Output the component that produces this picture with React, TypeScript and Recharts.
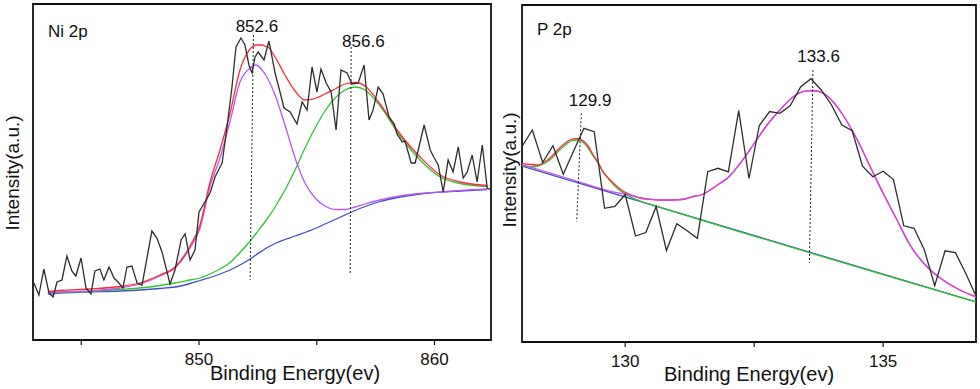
import React from 'react';
import { LineChart, Line, XAxis, YAxis, ReferenceLine, ReferenceArea, ReferenceDot, Label } from 'recharts';

const FONT = '"Liberation Sans", Arial, Helvetica, sans-serif';

// ---------------- Ni 2p (left panel) ----------------
const niEnergy = [
  842.99, 843.2, 843.41, 843.63, 843.8, 843.97, 844.18, 844.39, 844.6, 844.77,
  844.99, 845.2, 845.41, 845.58, 845.79, 845.96, 846.18, 846.39, 846.56, 846.77,
  846.94, 847.15, 847.37, 847.58, 848.0, 848.21, 848.43, 848.77, 848.98, 849.24,
  849.41, 849.62, 849.83, 850.0, 850.25, 850.47, 850.68, 850.98, 851.19, 851.4,
  851.57, 851.78, 851.95, 852.12, 852.25, 852.38, 852.51, 852.76, 852.97, 853.23,
  853.44, 853.61, 853.87, 854.16, 854.38, 854.59, 854.8, 855.01, 855.18, 855.4,
  855.61, 855.82, 856.03, 856.29, 856.5, 856.76, 857.01, 857.22, 857.39, 857.61,
  857.82, 858.07, 858.29, 858.41, 858.63, 858.75, 859.01, 859.18, 859.31, 859.56,
  859.82, 859.99, 860.16, 860.37, 860.58, 860.79, 861.01, 861.22, 861.39, 861.6,
  861.81, 862.03, 862.24, 862.41,
];
const niCounts = [
  57, 45, 71, 47, 43, 58, 60, 84, 69, 64,
  82, 52, 46, 69, 71, 60, 73, 62, 58, 52,
  73, 74, 57, 55, 109, 102, 88, 56, 70, 100,
  106, 80, 90, 128, 138, 147, 163, 177, 213, 253,
  293, 302, 295, 275, 267, 283, 288, 280, 299, 267,
  248, 232, 228, 216, 238, 230, 273, 248, 271, 257,
  248, 210, 270, 267, 256, 257, 275, 220, 230, 253,
  246, 223, 216, 206, 198, 199, 177, 177, 190, 215,
  190, 182, 175, 148, 180, 168, 193, 162, 168, 185,
  158, 195, 152, 150,
];
const niFitEnergy = [
  843.58, 844.09, 845.37, 846.64, 847.49, 848.34, 848.98, 849.62, 850.04, 850.47,
  850.89, 851.32, 851.74, 852.17, 852.42, 852.8, 853.23, 853.65, 854.08, 854.5,
  854.93, 855.35, 855.78, 856.2, 856.63, 857.05, 857.69, 858.54, 859.39, 860.24,
  861.09, 862.24,
];
const niBackground = [
  46, 47, 48, 49, 50, 51.5, 53, 56.5, 59.5, 62.5,
  66, 70, 75, 81, 85, 91, 96.5, 100.5, 104, 107.5,
  111.5, 116, 120.5, 125, 129.5, 133.5, 138.5, 143, 146, 147.8,
  149, 150.5,
];
const niPeak1 = [
  47, 48, 49, 52, 56, 64, 72, 92, 111.5, 154,
  182, 219, 258, 272, 275, 266, 245, 215, 182, 157,
  142, 134, 130.5, 130.5, 133, 136, 140, 144, 146.5, 148,
  149.5, 151,
];
const niPeak2 = [
  47, 47.5, 48.5, 50.5, 52, 54.5, 57, 60, 62, 66,
  71, 77.5, 87.5, 99, 106.5, 118, 133, 150, 170, 192,
  212, 229, 242, 250, 253, 250, 234, 204, 180, 163,
  156.5, 153.5,
];
const niEnvEnergy = [
  843.58, 844.09, 845.37, 846.64, 847.49, 848.34, 848.98, 849.62, 850.04, 850.47,
  850.89, 851.32, 851.74, 852.17, 852.42, 852.68, 852.8, 852.93, 853.23, 853.65,
  854.08, 854.5, 854.93, 855.35, 855.78, 856.2, 856.63, 857.05, 857.69, 858.54,
  859.39, 860.24, 861.09, 862.24,
];
const niEnvelope = [
  48.5, 49.5, 51, 53.5, 57, 65, 73, 94, 115, 158,
  190, 227, 270, 291, 295, 295, 294, 293, 283, 265,
  249, 240, 241.5, 246, 251, 256, 257.5, 254, 236, 206,
  183, 165, 158, 154.5,
];
const niTicks = [845, 850, 855, 860];
const niTickLabels = [850, 860];
const niPeakMarks = [
  { label: '852.6', eTop: 852.31, iTop: 305, eBottom: 852.17, iBottom: 60, eText: 852.46, iText: 308 },
  { label: '856.6', eTop: 856.46, iTop: 293, eBottom: 856.42, iBottom: 65, eText: 856.98, iText: 293.5 },
];

// ---------------- P 2p (right panel) ----------------
const pEnergy = [
  128.0, 128.2, 128.4, 128.6, 128.8, 129.0, 129.2, 129.4, 129.6, 129.8,
  130.0, 130.2, 130.4, 130.6, 130.8, 131.0, 131.2, 131.4, 131.6, 131.8,
  132.0, 132.2, 132.4, 132.6, 132.8, 133.0, 133.2, 133.4, 133.6, 133.8,
  134.0, 134.2, 134.4, 134.6, 134.8, 135.0, 135.2, 135.4, 135.6, 135.8,
  136.0, 136.2, 136.4, 136.6, 136.8,
];
const pCounts = [
  195.5, 212, 179.5, 196.3, 167.7, 191, 213.7, 210.3, 133.7, 135.5,
  147.5, 106, 109.5, 135.3, 91.5, 118.3, 111.3, 103.7, 170.3, 173.7,
  170.1, 231.3, 163.5, 216.5, 230.5, 228.7, 236.5, 255, 263.3, 252,
  237, 217, 211.2, 175.8, 165.3, 170.8, 162.4, 116.2, 113.7, 92,
  56.2, 91.2, 89.5, 68.7, 46,
];
const pBackgroundEnergy = [128.0, 136.8];
const pBackground = [176, 40];
const pPeak1Energy = [
  128.0, 128.16, 128.31, 128.45, 128.57, 128.7, 128.84, 128.95, 129.07, 129.19,
  129.28, 129.38, 129.48, 129.57, 129.69, 129.81, 129.94, 130.1, 130.29, 130.68,
  136.8,
];
const pPeak1 = [
  176.3, 175, 176, 179, 183.5, 190.5, 197, 201, 202, 199.5,
  194, 186, 178.5, 170, 162.5, 155.5, 150, 145.2, 141, 134.7,
  40,
];
const pPeak2Energy = [
  128.0, 128.93, 129.71, 130.12, 130.31, 130.5, 130.68, 130.83, 131.01, 131.16,
  131.32, 131.47, 131.65, 131.8, 131.98, 132.23, 132.48, 132.75, 133.0, 133.26,
  133.45, 133.64, 133.84, 134.03, 134.22, 134.5, 134.75, 135.0, 135.27, 135.52,
  135.85, 136.16, 136.49, 136.8,
];
const pPeak2 = [
  177.5, 163, 150.7, 146.5, 143.5, 142.5, 142, 142, 142.2, 143,
  145.5, 147, 152, 157.5, 163.7, 178.7, 197, 217, 232, 245.3,
  250.3, 251.5, 248.7, 240.3, 227, 202, 175.3, 148.7, 122, 97,
  75.3, 62, 52, 45,
];
const pEnvEnergy = [
  128.0, 128.16, 128.31, 128.45, 128.57, 128.7, 128.84, 128.95, 129.07, 129.19,
  129.28, 129.38, 129.48, 129.57, 129.69, 129.81, 129.94, 130.12, 130.31, 130.5,
  130.68, 130.83, 131.01, 131.16, 131.32, 131.47, 131.65, 131.8, 131.98, 132.23,
  132.48, 132.75, 133.0, 133.26, 133.45, 133.64, 133.84, 134.03, 134.22, 134.5,
  134.75, 135.0, 135.27, 135.52, 135.85, 136.16, 136.49, 136.8,
];
const pEnvelope = [
  178.7, 177.5, 177, 180.5, 185.3, 192.5, 199, 202.5, 203.5, 201,
  196, 187, 179, 170.3, 163, 157, 151.5, 147, 144, 142.7,
  142, 142, 142.2, 143, 145.5, 147, 152, 157.5, 163.7, 178.7,
  197, 217, 232, 245.3, 250.3, 251.5, 248.7, 240.3, 227, 202,
  175.3, 148.7, 122, 97, 75.3, 62, 52, 45,
];
const pTicks = [130, 132.5, 135];
const pTickLabels = [130, 135];
const pPeakMarks = [
  { label: '129.9', eTop: 129.15, iTop: 228.7, eBottom: 129.06, iBottom: 120.3, eText: 129.32, iText: 236.5 },
  { label: '133.6', eTop: 133.64, iTop: 272, eBottom: 133.57, iBottom: 79, eText: 133.75, iText: 280.5 },
];

const zip = (xs: number[], ys: number[]) => xs.map((e, k) => ({ e, i: ys[k] }));

const C_DATA = '#2d2d2d';
const C_RED = '#ff2b3a';
const C_PURPLE = '#b658f2';
const C_MAGENTA = '#c94af0';
const C_GREEN = '#2fc42f';
const C_BLUE = '#3f4fc6';

const yTitle = (baseX: number, shiftY: number) => (props: any) => {
  const vb = props.viewBox || { x: 0, y: 0, width: 0, height: 0 };
  const x = vb.x + baseX;
  const y = vb.y + vb.height / 2 + shiftY;
  return (
    <text x={x} y={y} transform={`rotate(-90 ${x} ${y})`} textAnchor="middle" fontSize={19} fontFamily={FONT} fill="#111">
      Intensity(a.u.)
    </text>
  );
};

const xTitle = (dx: number, baseY: number) => (props: any) => {
  const vb = props.viewBox || { x: 0, y: 0, width: 0, height: 0 };
  return (
    <text x={vb.x + vb.width / 2 + dx} y={vb.y + baseY} textAnchor="middle" fontSize={20} fontFamily={FONT} fill="#111">
      Binding Energy(ev)
    </text>
  );
};

const panelTitle = (text: string, dx: number, dy: number) => (props: any) => {
  const vb = props.viewBox || { x: 0, y: 0 };
  return (
    <text x={vb.x + dx} y={vb.y + dy} fontSize={17} fontFamily={FONT} fill="#111">
      {text}
    </text>
  );
};

type PanelProps = {
  width: number;
  marginTop: number;
  yAxisWidth: number;
  xAxisHeight: number;
  xDomain: [number, number];
  yMax: number;
  ticks: number[];
  tickLabels: number[];
  title: string;
  titleDy: number;
  yTitleX: number;
  yTitleShift: number;
  xTitleDx: number;
  xTitleY: number;
  fits: { data: { e: number; i: number }[]; color: string; key: string }[];
  raw: { e: number; i: number }[];
  marks: { label: string; eTop: number; iTop: number; eBottom: number; iBottom: number; eText: number; iText: number }[];
};

function Panel(p: PanelProps) {
  return (
    <LineChart width={p.width} height={389} margin={{ top: p.marginTop, right: 4, bottom: 0, left: 0 }}>
      <XAxis
        dataKey="e"
        type="number"
        domain={p.xDomain}
        allowDataOverflow
        ticks={p.ticks}
        tickFormatter={(v: number) => (p.tickLabels.includes(v) ? String(v) : '')}
        height={p.xAxisHeight}
        tickSize={5}
        tickMargin={8}
        tick={{ fontSize: 17, fill: '#111', fontFamily: FONT }}
        stroke="#111"
        axisLine={{ stroke: '#111', strokeWidth: 1.5 }}
        tickLine={{ stroke: '#111', strokeWidth: 1.2 }}
      >
        <Label content={xTitle(p.xTitleDx, p.xTitleY)} />
      </XAxis>
      <YAxis
        type="number"
        domain={[0, p.yMax]}
        allowDataOverflow
        width={p.yAxisWidth}
        tick={false}
        tickLine={false}
        axisLine={false}
      >
        <Label content={yTitle(p.yTitleX, p.yTitleShift)} />
      </YAxis>
      <ReferenceArea
        x1={p.xDomain[0]}
        x2={p.xDomain[1]}
        y1={0}
        y2={p.yMax}
        fill="none"
        fillOpacity={0}
        stroke="#111"
        strokeWidth={1.8}
        label={{ content: panelTitle(p.title, 15, p.titleDy) }}
      />
      {p.fits.map((f) => (
        <Line
          key={f.key}
          data={f.data}
          dataKey="i"
          type="monotone"
          stroke={f.color}
          strokeWidth={1.3}
          dot={false}
          activeDot={false}
          isAnimationActive={false}
        />
      ))}
      <Line
        data={p.raw}
        dataKey="i"
        type="linear"
        stroke={C_DATA}
        strokeWidth={1.3}
        dot={false}
        activeDot={false}
        isAnimationActive={false}
      />
      {p.marks.map((m) => (
        <ReferenceLine
          key={'l' + m.label}
          segment={[
            { x: m.eTop, y: m.iTop },
            { x: m.eBottom, y: m.iBottom },
          ]}
          stroke="#222"
          strokeWidth={1}
          strokeDasharray="2 2"
        />
      ))}
      {p.marks.map((m) => (
        <ReferenceDot
          key={'t' + m.label}
          x={m.eText}
          y={m.iText}
          r={0}
          fill="none"
          stroke="none"
          label={{ value: m.label, position: 'top', offset: 0, fontSize: 17, fill: '#111', fontFamily: FONT }}
        />
      ))}
    </LineChart>
  );
}

export default function App() {
  const niFits = [
    { key: 'bg', data: zip(niFitEnergy, niBackground), color: C_BLUE },
    { key: 'p2', data: zip(niFitEnergy, niPeak2), color: C_GREEN },
    { key: 'p1', data: zip(niFitEnergy, niPeak1), color: C_PURPLE },
    { key: 'env', data: zip(niEnvEnergy, niEnvelope), color: C_RED },
  ];
  const pFits = [
    { key: 'bg', data: zip(pBackgroundEnergy, pBackground), color: C_BLUE },
    { key: 'p1', data: zip(pPeak1Energy, pPeak1), color: C_GREEN },
    { key: 'env', data: zip(pEnvEnergy, pEnvelope), color: C_RED },
    { key: 'p2', data: zip(pPeak2Energy, pPeak2), color: C_MAGENTA },
  ];
  return (
    <div style={{ position: 'absolute', left: 0, top: 0, width: 980, height: 389, background: '#fff', overflow: 'hidden' }}>
      <div style={{ position: 'absolute', left: 0, top: 0 }}>
        <Panel
          width={495}
          marginTop={4}
          yAxisWidth={33}
          xAxisHeight={49}
          xDomain={[842.95, 862.4]}
          yMax={336}
          ticks={niTicks}
          tickLabels={niTickLabels}
          title="Ni 2p"
          titleDy={33}
          yTitleX={18.6}
          yTitleShift={1}
          xTitleDx={33}
          xTitleY={40}
          fits={niFits}
          raw={zip(niEnergy, niCounts)}
          marks={niPeakMarks}
        />
      </div>
      <div style={{ position: 'absolute', left: 490, top: 0 }}>
        <Panel
          width={490}
          marginTop={5}
          yAxisWidth={32}
          xAxisHeight={47}
          xDomain={[128.0, 136.8]}
          yMax={337}
          ticks={pTicks}
          tickLabels={pTickLabels}
          title="P 2p"
          titleDy={30}
          yTitleX={25.6}
          yTitleShift={-3.5}
          xTitleDx={0}
          xTitleY={39}
          fits={pFits}
          raw={zip(pEnergy, pCounts)}
          marks={pPeakMarks}
        />
      </div>
    </div>
  );
}
